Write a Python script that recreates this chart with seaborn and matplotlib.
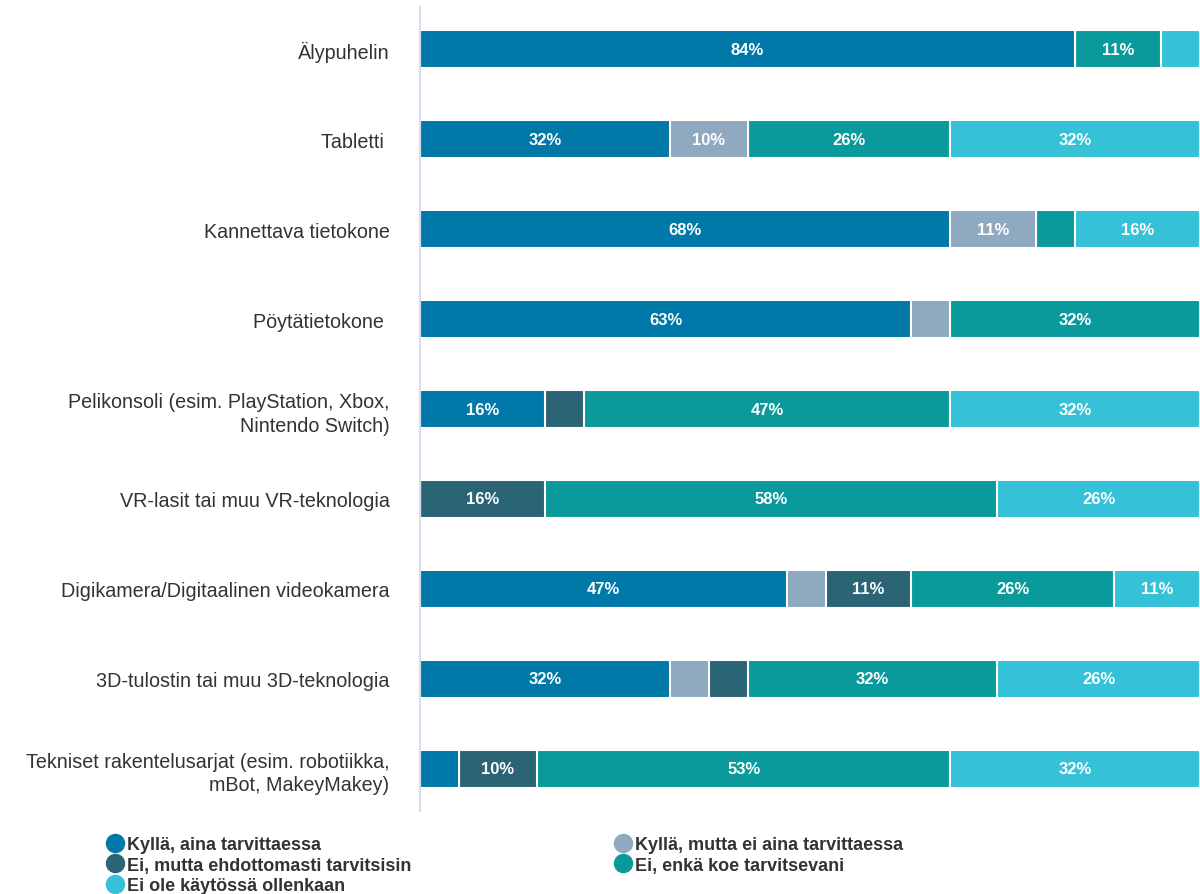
import numpy as np
import seaborn as sns
import pandas as pd
import matplotlib.pyplot as plt
from matplotlib.lines import Line2D

# categories (top to bottom)
laitteet = ['Älypuhelin', 'Tabletti ', 'Kannettava tietokone', 'Pöytätietokone ',
            'Pelikonsoli (esim. PlayStation, Xbox,\nNintendo Switch)',
            'VR-lasit tai muu VR-teknologia',
            'Digikamera/Digitaalinen videokamera',
            '3D-tulostin tai muu 3D-teknologia',
            'Tekniset rakentelusarjat (esim. robotiikka,\nmBot, MakeyMakey)']

# percentages per answer option
kylla_aina = [84, 32, 68, 63, 16, 0, 47, 32, 5]
kylla_ei_aina = [0, 10, 11, 5, 0, 0, 5, 5, 0]
ei_tarvitsisin = [0, 0, 0, 0, 5, 16, 11, 5, 10]
ei_enka = [11, 26, 5, 32, 47, 58, 26, 32, 53]
ei_kaytossa = [5, 32, 16, 0, 32, 26, 11, 26, 32]

sarjat = ['Kyllä, aina tarvittaessa', 'Kyllä, mutta ei aina tarvittaessa',
          'Ei, mutta ehdottomasti tarvitsisin', 'Ei, enkä koe tarvitsevani',
          'Ei ole käytössä ollenkaan']
varit = ['#0079a8', '#8fa9c1', '#2b6474', '#0a9a9b', '#35c1d7']

df = pd.DataFrame({'laite': laitteet,
                   sarjat[0]: kylla_aina, sarjat[1]: kylla_ei_aina,
                   sarjat[2]: ei_tarvitsisin, sarjat[3]: ei_enka,
                   sarjat[4]: ei_kaytossa})

# cumulative sums so the bars can be stacked by overlaying
cum = df[sarjat].cumsum(axis=1)

fig = plt.figure(figsize=(12, 8.95), dpi=100)
ax = fig.add_axes([0.35, 0.0927, 0.65, 0.8983])

for s, c in reversed(list(zip(sarjat, varit))):
    tmp = pd.DataFrame({'laite': laitteet, 'arvo': cum[s]})
    sns.barplot(data=tmp, y='laite', x='arvo', color=c, width=0.42,
                edgecolor='white', linewidth=1.5, ax=ax, saturation=1, orient='h')

# percentage labels inside the segments
for i in range(len(laitteet)):
    start = 0
    for s in sarjat:
        v = df[s][i]
        if v >= 10:
            ax.text(start + v / 2, i, f'{v}%', ha='center', va='center',
                    color='white', fontsize=12, fontweight='bold',
                    family='Liberation Sans')
        start += v

ax.set_xlim(0, 100)
ax.set_ylim(8.47, -0.47)
ax.set_xlabel('')
ax.set_ylabel('')
ax.set_xticks([])
for sp in ['top', 'right', 'bottom']:
    ax.spines[sp].set_visible(False)
ax.spines['left'].set_color('#d8dcf0')
ax.spines['left'].set_linewidth(1.5)
ax.tick_params(axis='y', length=0, pad=22)
for lbl in ax.get_yticklabels():
    lbl.set_family('Liberation Sans')
    lbl.set_fontsize(14.2)
    lbl.set_color('#333333')
    lbl.set_linespacing(1.3)

def kahva(c):
    return Line2D([], [], marker='o', linestyle='', markersize=13,
                  markerfacecolor=c, markeredgecolor=c)

leg_font = {'family': 'Liberation Sans', 'weight': 'bold', 'size': 13}

vasen = [0, 2, 4]
oikea = [1, 3]
for idx, x0 in [(vasen, 0.081), (oikea, 0.504)]:
    fig.legend([kahva(varit[k]) for k in idx], [sarjat[k] for k in idx],
               loc='upper left', bbox_to_anchor=(x0, 0.0745), frameon=False,
               prop=leg_font, handletextpad=0.15, labelspacing=0.18,
               borderpad=0, handlelength=1.0, labelcolor='#333333')

fig.savefig('out.png', dpi=100)
